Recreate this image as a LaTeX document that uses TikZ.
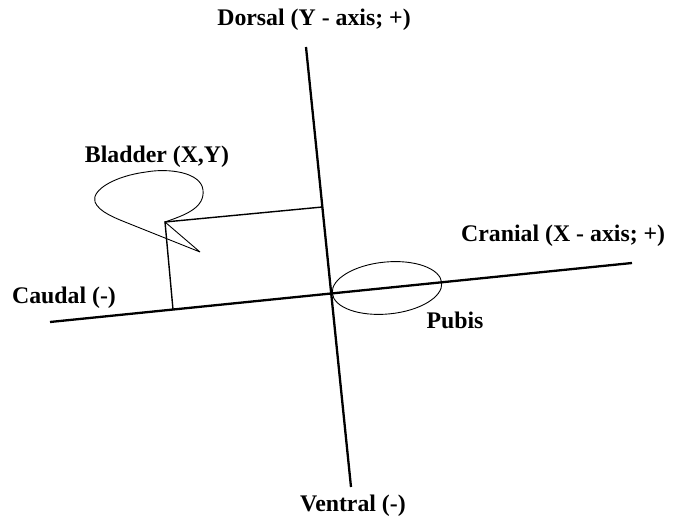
\documentclass[tikz,border=0pt]{standalone}
\usepackage{fontspec}
\setmainfont{Liberation Serif}
\begin{document}
\begin{tikzpicture}[x=1pt,y=-1pt,
  lbl/.style={font=\fontsize{23.8}{27}\selectfont\bfseries, inner sep=0pt},
  axis/.style={line width=2.3pt},
  thin/.style={line width=1.4pt},
  outline/.style={line width=0.9pt}]
\useasboundingbox (0,0) rectangle (678,518);
% axes
\coordinate (ytop) at (306,47);
\coordinate (ybot) at (351,487);
\coordinate (xleft) at (50,322);
\coordinate (xright) at (632,263);
\draw[axis] (ytop) -- (ybot);
\draw[axis] (xleft) -- (xright);
% rectangle to bladder
\coordinate (bl) at (165,222);
\coordinate (blx) at (173,309.5);
\coordinate (bly) at (322.4,207);
\draw[thin] (blx) -- (bl) -- (bly);
% bladder bubble
\coordinate (tip) at (200,252);
\draw[outline] (tip) -- (bl) .. controls (185,215) and (205,208) .. (203,190)
  .. controls (201,172) and (168,168) .. (146,172)
  .. controls (115,176) and (91,190) .. (95,202)
  .. controls (99,212) and (115,218) .. (130,224) -- (tip);
% pubis
\draw[outline, rotate around={5.5:(387,288)}] (387,288) ellipse [x radius=55, y radius=26];
% labels
\node[lbl] (dorsal) at (314,20) {Dorsal (Y - axis; +)};
\node[lbl] (bladder) at (157,157) {Bladder (X,Y)};
\node[lbl, anchor=west] (cranial) at (461,236) {Cranial (X - axis; +)};
\node[lbl] (caudal) at (64,298) {Caudal (-)};
\node[lbl] (pubis) at (455,320) {Pubis};
\node[lbl] (ventral) at (353,506) {Ventral (-)};
\end{tikzpicture}
\end{document}
